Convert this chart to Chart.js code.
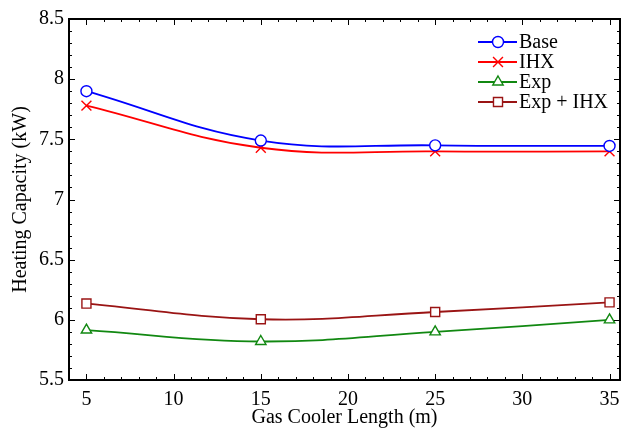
<!DOCTYPE html>
<html>
<head>
<meta charset="utf-8">
<script src="https://cdn.jsdelivr.net/npm/chart.js@4.4.1/dist/chart.umd.min.js"></script>
<style>
  html, body { margin: 0; padding: 0; background: #fff; }
  #wrap { width: 630px; height: 430px; }
</style>
</head>
<body>
<div id="wrap"><canvas id="c" width="630" height="430"></canvas></div>
<script>
// gas cooler length (m)
const lengths = [5, 15, 25, 35];
const xTicks = [5, 10, 15, 20, 25, 30, 35];

// heating capacity (kW)
const base   = [7.90, 7.49, 7.45, 7.445];
const ihx    = [7.78, 7.43, 7.40, 7.40];
const exp    = [5.915, 5.82, 5.90, 6.00];
const expIhx = [6.135, 6.005, 6.065, 6.145];

const seriesNames = ['Base', 'IHX', 'Exp', 'Exp + IHX'];

const FONT = 'Liberation Serif';

function pts(vals) {
  return lengths.map((x, i) => ({x: x, y: vals[i]}));
}

function ds(label, vals, color, style, r) {
  return {
    label: label,
    data: pts(vals),
    borderColor: color,
    backgroundColor: '#fff',
    borderWidth: 1.8,
    tension: 0.4,
    pointStyle: style,
    pointRadius: r,
    pointBorderWidth: 1.4,
    pointBorderColor: color,
    pointBackgroundColor: '#fff'
  };
}

// inward ticks on all four sides plus frame
const frameTicks = {
  id: 'frameTicks',
  afterDraw(chart) {
    const {ctx, chartArea: a, scales} = chart;
    const xs = scales.x, ys = scales.y;
    ctx.save();
    ctx.strokeStyle = '#000';
    ctx.lineWidth = 1;
    ctx.beginPath();
    for (let v = 4; v <= 35; v++) {
      const px = Math.round(xs.getPixelForValue(v)) + 0.5;
      const len = v % 5 === 0 ? 6 : 3;
      ctx.moveTo(px, a.bottom); ctx.lineTo(px, a.bottom - len);
      ctx.moveTo(px, a.top); ctx.lineTo(px, a.top + len);
    }
    for (let k = 55; k <= 85; k++) {
      const py = Math.round(ys.getPixelForValue(k / 10)) + 0.5;
      const len = k % 5 === 0 ? 6 : 3;
      ctx.moveTo(a.left, py); ctx.lineTo(a.left + len, py);
      ctx.moveTo(a.right, py); ctx.lineTo(a.right - len, py);
    }
    ctx.stroke();
    ctx.lineWidth = 2;
    ctx.strokeRect(a.left, a.top, a.right - a.left, a.bottom - a.top);
    ctx.restore();
  }
};

// legend box with line + marker, inside top right
const lineLegend = {
  id: 'lineLegend',
  afterDraw(chart) {
    const ctx = chart.ctx;
    const x0 = 478, x1 = 517, xm = 498, tx = 519;
    const rows = [42, 62, 82, 102];
    ctx.save();
    chart.data.datasets.forEach((d, i) => {
      const y = rows[i];
      ctx.strokeStyle = d.borderColor;
      ctx.lineWidth = 1.8;
      ctx.beginPath();
      ctx.moveTo(x0, y); ctx.lineTo(x1, y);
      ctx.stroke();
      ctx.fillStyle = '#fff';
      ctx.lineWidth = 1.4;
      Chart.helpers.drawPoint(ctx, {pointStyle: d.pointStyle, radius: d.pointRadius, borderWidth: 1.4}, xm, y);
      ctx.fillStyle = '#000';
      ctx.font = '20px "' + FONT + '"';
      ctx.textBaseline = 'middle';
      ctx.textAlign = 'left';
      ctx.fillText(d.label, tx, y + 1);
    });
    ctx.restore();
  }
};

new Chart(document.getElementById('c'), {
  type: 'line',
  data: {
    datasets: [
      ds(seriesNames[0], base, '#0000ff', 'circle', 5.5),
      ds(seriesNames[1], ihx, '#ff0000', 'crossRot', 7),
      ds(seriesNames[2], exp, '#118811', 'triangle', 6),
      ds(seriesNames[3], expIhx, '#9a1414', 'rect', 6.4)
    ]
  },
  options: {
    responsive: false,
    animation: false,
    layout: {padding: {top: 19, right: 10, left: 0, bottom: 0}},
    plugins: {
      legend: {display: false},
      tooltip: {enabled: false}
    },
    scales: {
      x: {
        type: 'linear',
        min: 4,
        max: 35.6,
        grid: {display: false, drawTicks: false},
        border: {display: false},
        afterBuildTicks: s => { s.ticks = xTicks.map(v => ({value: v})); },
        afterFit: s => { s.height = 50; },
        ticks: {color: '#000', padding: 8, maxRotation: 0, font: {family: FONT, size: 20}},
        title: {display: true, text: 'Gas Cooler Length (m)', color: '#000',
                padding: {top: 0, bottom: 0}, font: {family: FONT, size: 20}}
      },
      y: {
        min: 5.5,
        max: 8.5,
        grid: {display: false, drawTicks: false},
        border: {display: false},
        afterFit: s => { s.width = 69; },
        ticks: {stepSize: 0.5, color: '#000', padding: 5, font: {family: FONT, size: 20},
                callback: v => String(v)},
        title: {display: true, text: 'Heating Capacity (kW)', color: '#000',
                padding: {top: 9, bottom: 0}, font: {family: FONT, size: 20}}
      }
    }
  },
  plugins: [frameTicks, lineLegend]
});
</script>
</body>
</html>
